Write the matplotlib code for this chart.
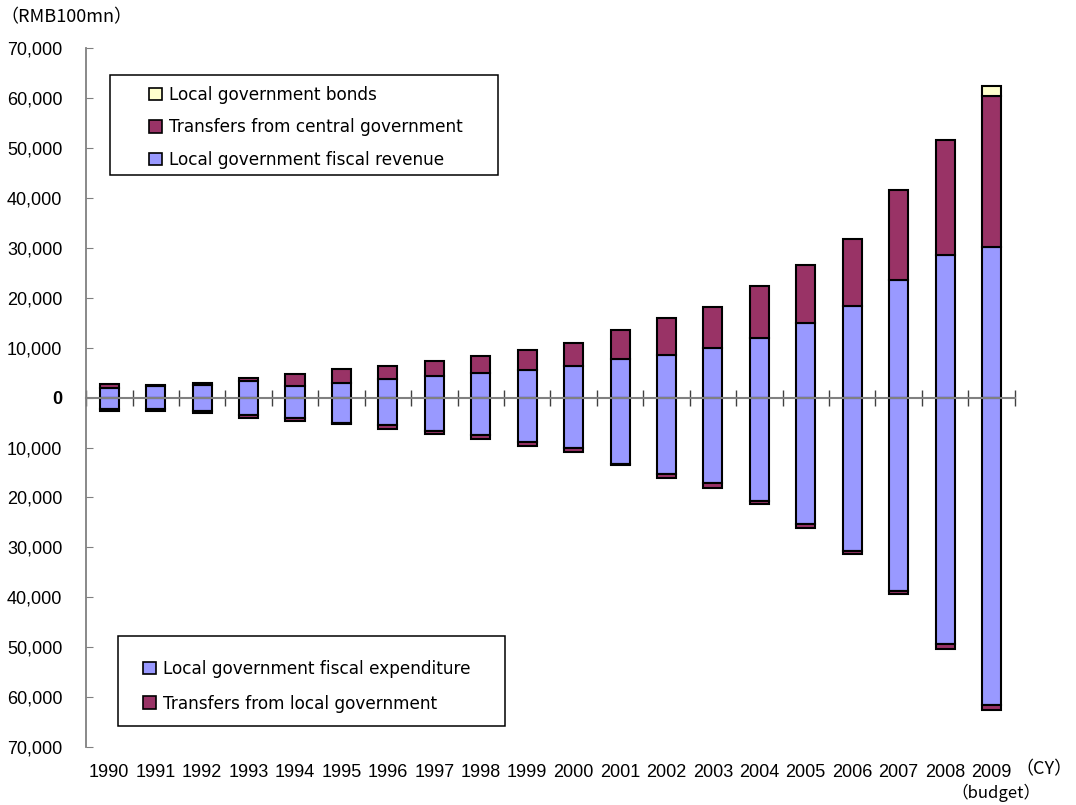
import numpy as np
import matplotlib.pyplot as plt
from matplotlib.patches import Patch, Rectangle
from matplotlib.ticker import FuncFormatter

# Local government finance, RMB 100 mn (2009 = budget)
years = [str(y) for y in range(1990, 2010)]
revenue = [1945, 2280, 2500, 3390, 2310, 2985, 3700, 4350, 4970, 5600,
           6350, 7650, 8600, 9950, 11950, 15000, 18300, 23600, 28650, 30250]
central_transfers = [735, 350, 400, 610, 2380, 2665, 2660, 2940, 3330, 4030,
                     4610, 5980, 7370, 8200, 10400, 11650, 13400, 18000, 22950, 30150]
bonds = [0, 0, 0, 0, 0, 0, 0, 0, 0, 0,
         0, 0, 0, 0, 0, 0, 0, 0, 0, 2000]
expenditure = [2200, 2350, 2700, 3400, 4000, 5050, 5550, 6730, 7530, 8820,
               10160, 13200, 15230, 17100, 20640, 25300, 30700, 38700, 49300, 61600]
local_transfers = [460, 300, 300, 600, 660, 300, 800, 600, 800, 800,
                   800, 350, 800, 940, 720, 740, 660, 660, 1000, 1000]

BLUE = '#9999ff'
RED = '#993366'
YELLOW = '#ffffcc'
GRAY = '#808080'
CJK = ['Noto Sans CJK JP', 'DejaVu Sans']


def draw_graph() -> None:
    plt.rcParams['font.family'] = ['Liberation Sans', 'DejaVu Sans']
    fig = plt.figure(figsize=(10.76, 8.05), dpi=100)
    ax = fig.add_axes([0.080, 0.072, 0.863, 0.868])

    x = np.arange(len(years))
    rev = np.array(revenue)
    ctr = np.array(central_transfers)
    bnd = np.array(bonds)
    exp_ = np.array(expenditure)
    ltr = np.array(local_transfers)
    kw = dict(width=0.41, edgecolor='black', linewidth=1.5, zorder=3)

    # upper half: where the money comes from
    ax.bar(x, rev, color=BLUE, **kw)
    ax.bar(x, ctr, bottom=rev, color=RED, **kw)
    has_bonds = bnd > 0
    ax.bar(x[has_bonds], bnd[has_bonds], bottom=(rev + ctr)[has_bonds],
           color=YELLOW, **kw)
    # lower half: where it goes
    ax.bar(x, -exp_, color=BLUE, **kw)
    ax.bar(x, -ltr, bottom=-exp_, color=RED, **kw)

    ax.set_xlim(-0.5, len(years) - 0.5)
    ax.set_ylim(-70000, 70000)
    ax.set_yticks(np.arange(-70000, 70001, 10000))
    ax.yaxis.set_major_formatter(FuncFormatter(lambda v, p: f'{abs(int(v)):,}'))
    ax.tick_params(axis='y', direction='in', length=5, color=GRAY,
                   labelsize=13, pad=17)
    for lab in ax.get_yticklabels():
        if lab.get_text() == '0':
            lab.set_fontweight('bold')

    for s in ['top', 'right']:
        ax.spines[s].set_visible(False)
    ax.spines['left'].set_color(GRAY)
    ax.spines['left'].set_linewidth(1.3)
    ax.spines['bottom'].set_position(('data', 0))
    ax.spines['bottom'].set_color(GRAY)
    ax.spines['bottom'].set_linewidth(1.5)
    ax.spines['bottom'].set_zorder(4)

    ax.set_xticks([])
    ax.set_xticks(np.arange(len(years) + 1) - 0.5, minor=True)
    ax.tick_params(axis='x', which='minor', direction='inout', length=11,
                   color='#404040', width=1)

    for xi, yr in zip(x, years):
        ax.text(xi, -0.036, yr, transform=ax.get_xaxis_transform(),
                ha='center', va='center', fontsize=13)
    ax.text(x[-1] + 0.1, -0.065, '（budget）', transform=ax.get_xaxis_transform(),
            ha='center', va='center', fontsize=12, family=CJK)
    fig.text(1073 / 1076, 1 - 769 / 805, '（CY）', ha='right', va='center',
             fontsize=13, family=CJK)
    fig.text(0.0, 1 - 17 / 805, '（RMB100mn）', ha='left', va='center',
             fontsize=13, family=CJK)

    def sq(color, label):
        return Patch(facecolor=color, edgecolor='black', linewidth=1.2, label=label)

    leg_kw = dict(frameon=False, loc='upper left', borderpad=0, borderaxespad=0,
                  handlelength=0.75, handleheight=0.75, handletextpad=0.45,
                  bbox_transform=fig.transFigure,
                  prop={'family': 'DejaVu Sans', 'size': 12.2})
    top_leg = ax.legend(handles=[sq(YELLOW, 'Local government bonds'),
                                 sq(RED, 'Transfers from central government'),
                                 sq(BLUE, 'Local government fiscal revenue')],
                        bbox_to_anchor=(149 / 1076, 1 - 86 / 805),
                        labelspacing=0.85, **leg_kw)
    ax.add_artist(top_leg)
    ax.legend(handles=[sq(BLUE, 'Local government fiscal expenditure'),
                       sq(RED, 'Transfers from local government')],
              bbox_to_anchor=(143 / 1076, 1 - 660 / 805),
              labelspacing=0.98, **leg_kw)

    # legend frames
    for (l, t, r, b) in [(110, 75, 498, 175), (118, 636, 505, 726)]:
        fig.add_artist(Rectangle((l / 1076, 1 - b / 805), (r - l) / 1076, (b - t) / 805,
                                 transform=fig.transFigure, fill=False,
                                 edgecolor='black', linewidth=1.1))

    fig.savefig('out.png', dpi=100)


if __name__ == '__main__':
    draw_graph()
